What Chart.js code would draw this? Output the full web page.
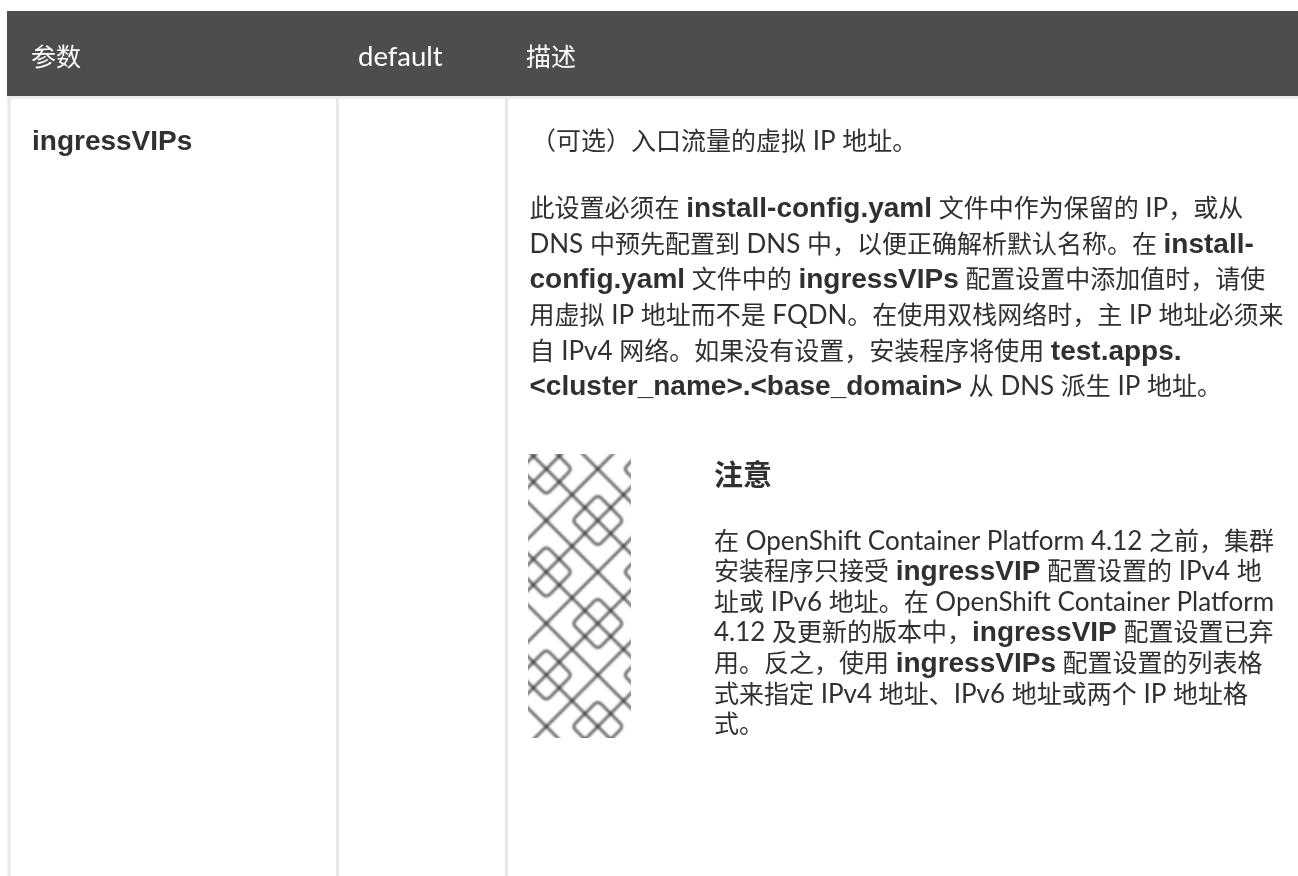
<!DOCTYPE html>
<html><head><meta charset="utf-8">
<script src="https://cdn.jsdelivr.net/npm/chart.js@4"></script>
<style>html,body{margin:0;padding:0;background:#fff;overflow:hidden}canvas{display:block}</style>
</head><body><canvas id="c" width="1298" height="876"></canvas>
<script>
const headerLabels = ["参数","default","描述"];
const rowLabel = "ingressVIPs";
const introLine = [["（可选）入口流量的虚拟 IP 地址。",0]];
const bodyLines = [
 [["此设置必须在 ",0],["install-config.yaml",1],[" 文件中作为保留的 IP，或从",0]],
 [["DNS 中预先配置到 DNS 中，以便正确解析默认名称。在 ",0],["install-",1]],
 [["config.yaml",1],[" 文件中的 ",0],["ingressVIPs",1],[" 配置设置中添加值时，请使",0]],
 [["用虚拟 IP 地址而不是 FQDN。在使用双栈网络时，主 IP 地址必须来",0]],
 [["自 IPv4 网络。如果没有设置，安装程序将使用 ",0],["test.apps.",1]],
 [["<cluster_name>.<base_domain>",1],[" 从 DNS 派生 IP 地址。",0]]
];
const noteTitle = "注意";
const noteLines = [
 [["在 OpenShift Container Platform 4.12 之前，集群",0]],
 [["安装程序只接受 ",0],["ingressVIP",1],[" 配置设置的 IPv4 地",0]],
 [["址或 IPv6 地址。在 OpenShift Container Platform",0]],
 [["4.12 及更新的版本中，",0],["ingressVIP",1],[" 配置设置已弃",0]],
 [["用。反之，使用 ",0],["ingressVIPs",1],[" 配置设置的列表格",0]],
 [["式来指定 IPv4 地址、IPv6 地址或两个 IP 地址格",0]],
 [["式。",0]]
];
const columnEdges = [9, 337.5, 506.5];
const tableTop = 11, headerBottom = 96, pageBottom = 876, pageRight = 1298, tableLeft = 7;

const CJK = '"Noto Sans CJK SC"';
const INK = '#303030';
const SIZE = 25, BOLD_SIZE = 28;
function drawRuns(ctx,runs,x,y,color,latinSize){
  ctx.fillStyle=color||INK;ctx.textBaseline='alphabetic';ctx.textAlign='left';
  for(const [t,b] of runs){
    if(b){ctx.font=`bold ${BOLD_SIZE}px "Liberation Sans", ${CJK}`;ctx.fillText(t,x,y);x+=ctx.measureText(t).width;continue;}
    for(const part of t.match(/[\u0000-\u00ff]+|[^\u0000-\u00ff]+/g)){
      ctx.font=/^[\u0000-\u00ff]/.test(part)?`${latinSize||26}px "Lato"`:`${SIZE}px ${CJK}`;
      ctx.fillText(part,x,y);x+=ctx.measureText(part).width;
    }
  }
}
function drawKnot(ctx,x0,y0,x1,y1,cx,cy,u){
  ctx.save();ctx.beginPath();ctx.rect(x0,y0,x1-x0,y1-y0);ctx.clip();
  ctx.filter='blur(1px)';
  ctx.strokeStyle='rgba(40,40,40,0.72)';ctx.lineWidth=2.8;
  const P=8*u;
  const seg=(a,b,c,d)=>{ctx.beginPath();ctx.moveTo(a,b);ctx.lineTo(c,d);ctx.stroke();};
  const L=y1-y0+P*2;
  for(let k=-8;k<=8;k++){
    const ox=cx+k*4*u;
    seg(ox-L,cy-L,ox+L,cy+L);
    seg(ox-L,cy+L,ox+L,cy-L);
  }
  const diamond=(mx,my)=>{
    const r=2*u,t=0.28*u;
    ctx.beginPath();
    ctx.moveTo(mx-t,my-r+t);
    ctx.quadraticCurveTo(mx,my-r,mx+t,my-r+t);
    ctx.lineTo(mx+r-t,my-t);
    ctx.quadraticCurveTo(mx+r,my,mx+r-t,my+t);
    ctx.lineTo(mx+t,my+r-t);
    ctx.quadraticCurveTo(mx,my+r,mx-t,my+r-t);
    ctx.lineTo(mx-r+t,my+t);
    ctx.quadraticCurveTo(mx-r,my,mx-r+t,my-t);
    ctx.closePath();ctx.stroke();
  };
  for(let j=-1;j<4;j++)for(let i=-1;i<2;i++){
    diamond(cx+i*P,cy+j*P);
    diamond(cx+i*P+4*u,cy+j*P+4*u);
  }
  ctx.restore();
}
const pagePlugin={id:'page',afterDatasetsDraw(chart){
  const ctx=chart.ctx;
  ctx.save();
  const px=chart.scales.x,py=chart.scales.y;
  drawKnot(ctx,px.getPixelForValue(528),py.getPixelForValue(454),px.getPixelForValue(631),py.getPixelForValue(738),546.33,469,12.875);
  drawRuns(ctx,[[headerLabels[0],0]],31,66,'#fff');
  drawRuns(ctx,[[headerLabels[1],0]],358,66,'#fff',27.5);
  drawRuns(ctx,[[headerLabels[2],0]],526,66,'#fff');
  drawRuns(ctx,[[rowLabel,1]],32,150);
  drawRuns(ctx,introLine,531,150);
  const ys=[217,252.5,288,324,359.5,395];
  bodyLines.forEach((l,i)=>drawRuns(ctx,l,529.5,ys[i]));
  ctx.font=`bold 29px ${CJK}`;ctx.fillStyle=INK;ctx.fillText(noteTitle,714,486);
  noteLines.forEach((l,i)=>drawRuns(ctx,l,714,549.5+i*30.6));
  ctx.restore();
}};
new Chart(document.getElementById('c'),{
  type:'scatter',
  data:{datasets:[
    {data:[{x:tableLeft,y:tableTop},{x:pageRight,y:tableTop}],showLine:true,borderWidth:0,pointRadius:0,backgroundColor:'#4d4d4d',fill:{value:headerBottom},order:1},
    {data:[{x:tableLeft,y:headerBottom+1.5},{x:pageRight,y:headerBottom+1.5}],showLine:true,borderColor:'#ececec',borderWidth:3,pointRadius:0,order:2},
    ...columnEdges.map(e=>({data:[{x:e,y:headerBottom},{x:e,y:pageBottom}],showLine:true,borderColor:'#e8e8e8',borderWidth:3,pointRadius:0,order:2}))
  ]},
  options:{responsive:false,animation:false,layout:{padding:0},
    plugins:{legend:{display:false},tooltip:{enabled:false},title:{display:false},filler:{propagate:false}},
    events:[],
    scales:{x:{type:'linear',display:false,min:0,max:pageRight},y:{type:'linear',display:false,min:0,max:pageBottom,reverse:true}}},
  plugins:[pagePlugin]
});
</script></body></html>
